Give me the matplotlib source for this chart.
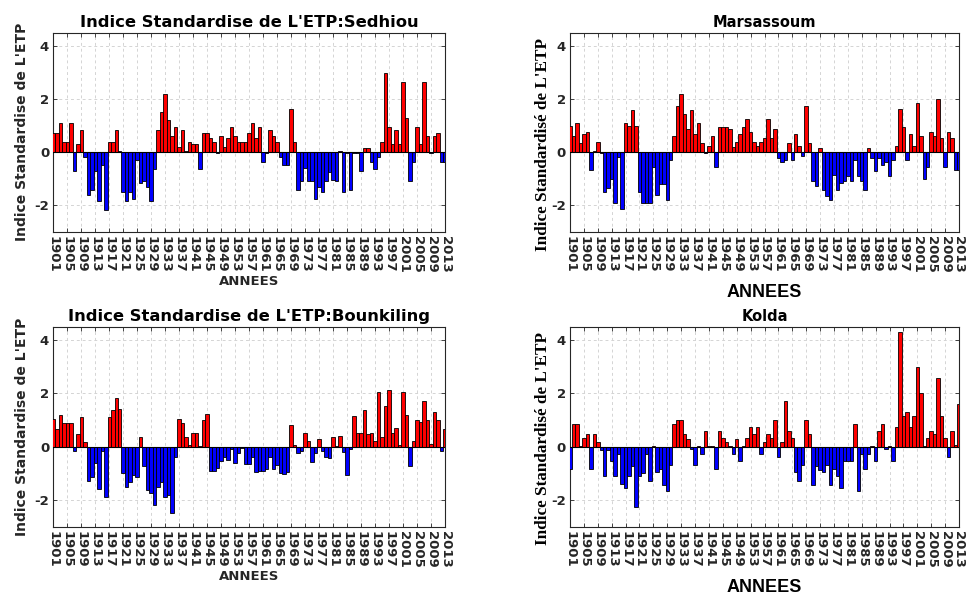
import matplotlib
matplotlib.use('Agg')
import matplotlib.pyplot as plt
import numpy as np

# Standardised ETP index per station, one value per year 1901-2013
years = np.arange(1901, 2014)

sedhiou = [
    0.73, 0.73, 1.08, 0.38, 0.38, 1.08, -0.72, 0.29, 0.85, -0.18,
    -1.6, -1.42, -0.72, -1.86, -0.5, -2.2, 0.39, 0.39, 0.85, 0.05,
    -1.52, -1.86, -1.52, -1.76, -0.3, -1.16, -1.1, -1.32, -1.86, -0.63,
    0.85, 1.53, 2.18, 1.22, 0.61, 0.95, 0.18, 0.85, 0.05, 0.38,
    0.29, 0.29, -0.63, 0.73, 0.73, 0.52, 0.39, -0.05, 0.61, 0.18,
    0.52, 0.95, 0.61, 0.39, 0.39, 0.39, 0.73, 1.08, 0.52, 0.95,
    -0.38, -0.05, 0.85, 0.61, 0.39, -0.18, -0.5, -0.5, 1.62, 0.39,
    -1.42, -1.08, -0.6, -1.1, -1.1, -1.76, -1.3, -1.52, -1.1, -0.75,
    -1.05, -1.08, 0.05, -1.52, -0.05, -1.42, -0.05, -0.05, -0.72, 0.16,
    0.16, -0.38, -0.63, -0.18, 0.39, 2.97, 0.95, 0.29, 0.85, 0.29,
    2.66, 1.3, -1.08, -0.38, 0.95, 0.29, 2.66, 0.61, -0.05, 0.61,
    0.73, -0.38, -0.38,
]

marsassoum = [
    1.0, 0.61, 1.1, 0.33, 0.67, 0.77, -0.66, 0.05, 0.39, -0.05,
    -1.52, -1.35, -1.0, -1.9, -0.2, -2.14, 1.1, 1.0, 1.57, 1.0,
    -1.52, -1.9, -1.9, -1.9, -0.56, -1.6, -1.19, -1.19, -1.8, -0.28,
    0.61, 1.72, 2.18, 1.45, 0.86, 1.57, 0.67, 1.1, 0.33, -0.05,
    0.23, 0.61, -0.56, 0.95, 0.95, 0.95, 0.86, 0.18, 0.39, 0.67,
    0.95, 1.24, 0.77, 0.39, 0.23, 0.39, 0.52, 1.24, 0.52, 0.86,
    -0.21, -0.38, -0.28, 0.33, -0.28, 0.67, 0.23, -0.13, 1.75, 0.33,
    -1.08, -1.27, 0.16, -1.42, -1.67, -1.8, -0.85, -1.44, -1.16, -1.08,
    -0.91, -1.08, -0.28, -0.91, -1.08, -1.44, 0.16, -0.21, -0.72, -0.21,
    -0.47, -0.38, -0.91, -0.28, 0.23, 1.62, 0.95, -0.28, 0.67, 0.23,
    1.85, 0.61, -1.01, -0.56, 0.77, 0.61, 2.0, 0.52, -0.56, 0.77,
    0.52, -0.66, -0.66,
]

bounkiling = [
    1.05, 0.68, 1.2, 0.89, 0.89, 0.89, -0.15, 0.47, 1.12, 0.16,
    -1.27, -1.15, -0.62, -1.58, -0.15, -1.89, 1.12, 1.36, 1.83, 1.42,
    -0.99, -1.5, -1.33, -1.07, -1.15, 0.38, -0.74, -1.64, -1.73, -2.17,
    -1.5, -1.33, -1.89, -1.81, -2.48, -0.38, 1.05, 0.89, 0.35, 0.06,
    0.53, 0.53, 0.02, 0.99, 1.22, -0.9, -0.9, -0.78, -0.53, -0.4,
    -0.48, -0.09, -0.62, -0.23, -0.06, -0.65, -0.65, -0.4, -0.96, -0.9,
    -0.9, -0.85, -0.4, -0.85, -0.7, -1.0, -1.02, -0.95, 0.83, 0.06,
    -0.25, -0.15, 0.53, 0.23, -0.59, -0.22, 0.3, -0.15, -0.37, -0.43,
    0.36, 0.02, 0.4, -0.21, -1.05, -0.09, 1.14, 0.53, 0.53, 1.36,
    0.47, 0.52, 0.23, 2.04, 0.36, 1.54, 2.14, 0.53, 0.7, 0.06,
    2.06, 1.2, -0.74, 0.23, 0.99, 0.93, 1.73, 0.99, 0.09, 1.3,
    0.99, -0.15, 0.65,
]

kolda = [
    -0.83, 0.85, 0.85, 0.04, 0.31, 0.47, -0.83, 0.47, 0.16, -0.11,
    -1.11, -0.11, -0.53, -1.11, -0.28, -1.4, -1.54, -1.11, -0.74, -2.25,
    -1.11, -0.99, -0.28, -1.27, 0.04, -0.96, -0.83, -1.42, -1.67, -0.7,
    0.85, 1.01, 1.01, 0.47, 0.28, -0.09, -0.7, 0.04, -0.27, 0.59,
    0.04, 0.04, -0.83, 0.59, 0.31, 0.16, 0.04, -0.27, 0.28, -0.53,
    0.04, 0.31, 0.73, 0.47, 0.73, -0.27, 0.16, 0.47, 0.31, 1.01,
    -0.4, 0.16, 1.73, 0.59, 0.31, -0.96, -1.27, -0.7, 1.01, 0.47,
    -1.42, -0.74, -0.86, -0.96, -0.7, -1.42, -0.83, -1.11, -1.54, -0.53,
    -0.53, -0.53, 0.85, -1.67, -0.28, -0.83, -0.27, 0.04, -0.53, 0.59,
    0.85, -0.09, 0.04, -0.53, 0.73, 4.31, 1.17, 1.3, 0.73, 1.17,
    3.0, 2.0, 0.04, 0.31, 0.59, 0.47, 2.59, 1.17, 0.31, -0.4,
    0.59, 0.06, 1.6,
]

xticks = np.arange(1901, 2014, 4)
yticks = [-2, 0, 2, 4]

W, H = 969, 594
fig = plt.figure(figsize=(W / 100, H / 100), dpi=100)

dark = '#262626'
grid_col = '#d4d4d4'


def panel(rect_px, vals, title, ylabel, serif_labels):
    x0, y0, x1, y1 = rect_px
    ax = fig.add_axes([x0 / W, 1 - y1 / H, (x1 - x0) / W, (y1 - y0) / H])
    v = np.array(vals)
    cols = np.where(v >= 0, '#ff0000', '#0000ff')
    ax.bar(years, v, width=1.0, color=cols, edgecolor='black', linewidth=0.6, zorder=3)
    ax.axhline(0, color='black', lw=0.8, zorder=4)
    ax.set_xlim(1901, 2013)
    ax.set_ylim(-3, 4.5)
    ax.set_xticks(xticks)
    ax.set_xticklabels([str(t) for t in xticks], rotation=270, fontweight='bold',
                       fontsize=9.5, color=dark)
    ax.set_yticks(yticks)
    ax.set_yticklabels([str(t) for t in yticks], fontweight='bold', fontsize=9.5, color=dark)
    ax.tick_params(direction='in', length=3, width=0.6, color=dark,
                   top=True, right=True, pad=3)
    ax.grid(True, linestyle=(0, (3, 3)), color=grid_col, lw=0.7, zorder=0)
    for s in ax.spines.values():
        s.set_color(dark)
        s.set_linewidth(0.8)
    if serif_labels:
        ax.set_title(title, fontsize=10.5, fontweight='bold', pad=4)
        ax.set_ylabel(ylabel, family='Liberation Serif', fontweight='bold', fontsize=12.3)
        ax.yaxis.set_label_coords(-0.05, 0.44)
        ax.set_xlabel('ANNEES', family='Liberation Sans', fontweight='bold', fontsize=13,
                      labelpad=8)
    else:
        ax.set_title(title, fontsize=11.8, fontweight='bold', pad=4)
        ax.set_ylabel(ylabel, fontweight='bold', fontsize=10, color=dark)
        ax.set_xlabel('ANNEES', fontweight='bold', fontsize=9.5, color=dark, labelpad=2)
    return ax


panel((53.3, 32.7, 445, 231.7), sedhiou, "Indice Standardise de L'ETP:Sedhiou",
      "Indice Standardise de L'ETP", False)
panel((570, 32.7, 959, 231.7), marsassoum, 'Marsassoum',
      "Indice Standardisé de L'ETP", True)
panel((53.3, 326.7, 445, 526.7), bounkiling, "Indice Standardise de L'ETP:Bounkiling",
      "Indice Standardise de L'ETP", False)
panel((570, 326.7, 959, 526.7), kolda, 'Kolda',
      "Indice Standardisé de L'ETP", True)

fig.savefig('out.png', dpi=100)
